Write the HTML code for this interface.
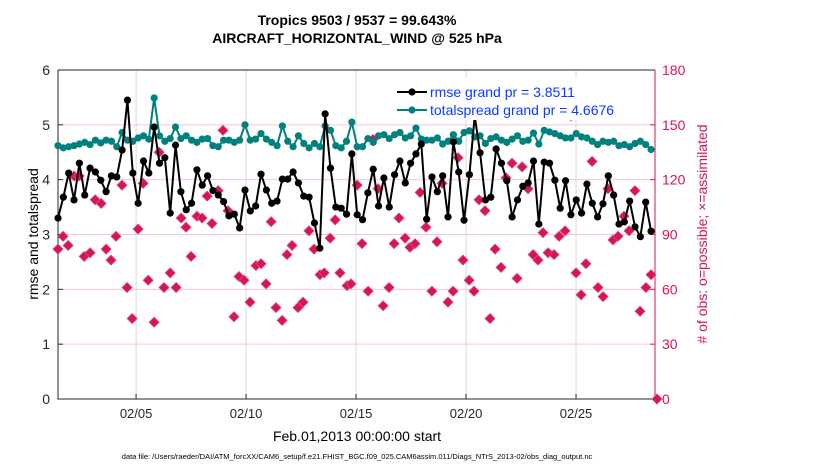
<!DOCTYPE html>
<html><head><meta charset="utf-8"><style>
body{margin:0;background:#fff;}
svg{display:block;font-family:"Liberation Sans",sans-serif;}
</style></head><body>
<svg id="chart" width="830" height="470">
<rect width="830" height="470" fill="#fff"/>
<text x="357" y="25" text-anchor="middle" font-size="14" font-weight="bold">Tropics 9503 / 9537 = 99.643%</text>
<text x="357" y="43" text-anchor="middle" font-size="14" font-weight="bold">AIRCRAFT_HORIZONTAL_WIND @ 525 hPa</text>
<rect x="58" y="70" width="597" height="329" fill="#fff"/>
<g id="grid"></g><g id="axes"></g><g id="series"></g>
<text x="357" y="441" text-anchor="middle" font-size="14">Feb.01,2013 00:00:00 start</text>
<text transform="translate(38,234) rotate(-90)" text-anchor="middle" font-size="14">rmse and totalspread</text>
<text transform="translate(707,234) rotate(-90)" text-anchor="middle" font-size="14" fill="#d6145a"># of obs: o=possible; ×=assimilated</text>
<text x="357" y="459" text-anchor="middle" font-size="7.5">data file: /Users/raeder/DAI/ATM_forcXX/CAM6_setup/f.e21.FHIST_BGC.f09_025.CAM6assim.011/Diags_NTrS_2013-02/obs_diag_output.nc</text>
<g id="legend"></g>
</svg>
<script>
const rmse=[3.3,3.68,4.12,3.63,4.3,3.72,4.21,4.14,3.99,3.78,4.07,4.05,4.54,5.45,4.12,3.57,4.34,4.12,4.96,4.3,4.4,3.39,4.63,3.78,3.45,3.57,4.18,3.9,4.07,3.8,
3.72,3.6,3.34,3.37,3.12,3.81,3.43,3.52,4.1,3.81,3.57,3.61,4.01,4.01,4.14,3.94,3.7,3.68,3.21,2.75,5.2,4.21,3.5,3.48,3.37,4.47,
3.36,3.27,3.76,4.19,3.52,4.03,3.5,4.09,4.34,3.94,4.3,4.47,4.65,3.28,4.05,3.78,4.07,3.32,4.69,4.14,3.26,4.09,5.16,4.49,3.63,3.68,4.56,4.3,3.98,3.32,
3.63,3.88,3.94,4.34,3.19,4.32,4.3,3.99,3.48,3.98,3.36,3.63,3.39,3.92,3.57,3.32,3.56,4.07,3.72,3.19,3.23,3.61,3.14,2.96,3.59,3.06];
const spread=[4.62,4.58,4.6,4.62,4.65,4.68,4.64,4.72,4.67,4.72,4.7,4.6,4.86,4.72,4.7,4.76,4.8,4.74,5.49,4.8,4.7,4.75,4.96,4.75,4.8,4.72,4.68,4.74,4.75,4.62,
4.6,4.72,4.72,4.68,4.72,5.0,4.72,4.74,4.84,4.74,4.68,4.62,4.98,4.7,4.6,4.8,4.66,4.58,4.66,4.6,4.98,4.9,4.62,4.58,4.7,5.05,
4.6,4.6,4.75,4.68,4.8,4.82,4.75,4.82,4.86,4.76,4.8,4.94,4.74,4.72,4.72,4.76,4.65,4.7,4.82,4.7,4.86,4.89,4.78,4.8,4.66,4.75,4.78,4.72,4.68,4.74,
4.8,4.7,4.72,4.85,4.65,4.9,4.87,4.84,4.8,4.76,4.76,4.84,4.78,4.76,4.7,4.64,4.7,4.68,4.7,4.62,4.64,4.6,4.66,4.7,4.64,4.55];
const obsDay=[1.45,1.68,1.91,2.18,2.41,2.64,2.91,3.14,3.41,3.64,3.86,4.09,4.36,4.59,4.82,5.09,5.32,5.55,5.82,6.05,6.27,6.55,6.82,7.05,7.27,7.5,7.77,8.0,8.23,8.45,8.73,8.95,9.18,9.45,9.68,9.91,10.18,10.45,10.68,10.91,11.14,11.36,11.64,11.86,12.09,12.36,12.59,12.86,13.09,13.36,13.55,13.82,14.05,14.27,14.59,14.77,15.05,15.27,15.55,15.77,16.0,16.23,16.5,16.73,16.95,17.23,17.45,17.68,17.91,18.18,18.45,18.68,18.91,19.18,19.41,19.64,19.86,20.14,20.36,20.59,20.86,21.09,21.32,21.59,21.82,22.09,22.32,22.55,22.82,23.05,23.27,23.5,23.73,24.0,24.23,24.5,24.77,25.0,25.23,25.45,25.73,26.0,26.23,26.45,26.68,26.91,27.18,27.41,27.68,27.91,28.18,28.41,28.68];
const obsCount=[82,89,84,122,122,78,80,109,107,82,76,89,117,61,44,93,118,65,42,135,61,69,61,99,94,78,100,99,111,96,114,147,103,45,67,65,53,73,74,63,97,50,43,79,84,50,53,92,82,68,69,88,98,69,62,63,117,85,59,142,115,51,61,85,99,88,83,85,113,94,59,86,118,53,59,132,76,65,59,109,103,44,82,72,121,129,66,127,115,79,76,91,80,79,89,92,155,69,57,74,130,61,56,115,87,89,100,92,114,48,61,68,0];
const dateTicks=[5,10,15,20,25];
const dateLabels=["02/05","02/10","02/15","02/20","02/25"];
const leftTicks=[0,1,2,3,4,5,6];
const rightTicks=[0,30,60,90,120,150,180];
const legendLabels=["rmse grand pr = 3.8511","totalspread grand pr = 4.6676"];

const NS="http://www.w3.org/2000/svg";
const L=58,R=655,T=70,B=399,D0=1.45,D1=28.59;
const xDay=d=>L+(d-D0)/(D1-D0)*(R-L);
const yL=v=>B-v/6*(B-T);
const yR=v=>B-v/180*(B-T);
const dayOfIndex=i=>D0+i*(28.41-D0)/(rmse.length-1);
function el(tag,attrs,parent){const e=document.createElementNS(NS,tag);for(const k in attrs)e.setAttribute(k,attrs[k]);parent.appendChild(e);return e;}
const grid=document.getElementById('grid'),axes=document.getElementById('axes'),ser=document.getElementById('series'),leg=document.getElementById('legend');
dateTicks.forEach((d,i)=>{
  const g=el('line',{x1:xDay(d),x2:xDay(d),y1:T,y2:B,stroke:'#d9d9d9','stroke-width':1},grid);
  
  
  const tk=el('line',{x1:xDay(d),x2:xDay(d),y1:B,y2:B-5,stroke:'#262626'},axes);
  
  
  const t=el('text',{x:xDay(d),y:B+19,'text-anchor':'middle','font-size':13,fill:'#262626'},axes);
  t.textContent=dateLabels[i];
  
  
});
rightTicks.forEach(v=>{
  if(v>0&&v<180){const g=el('line',{x1:L,x2:R,y1:yR(v),y2:yR(v),stroke:'#f5c6d8','stroke-width':1},grid);
  
  }
  const tk=el('line',{x1:R,x2:R-5,y1:yR(v),y2:yR(v),stroke:'#d6145a'},axes);
  
  
  const t=el('text',{x:R+7,y:yR(v)+5,'font-size':14,fill:'#d6145a'},axes);
  t.textContent=v;
  
  
});
leftTicks.forEach(v=>{
  const tk=el('line',{x1:L,x2:L+5,y1:yL(v),y2:yL(v),stroke:'#262626'},axes);
  
  
  const t=el('text',{x:L-8,y:yL(v)+5,'text-anchor':'end','font-size':14,fill:'#262626'},axes);
  t.textContent=v;
  
  
});
const bl=el('path',{d:`M${L},${T}V${B}H${R}M${L},${T}H${R}`,fill:'none',stroke:'#262626','stroke-width':1},axes);


const rl=el('line',{x1:R,x2:R,y1:T,y2:B,stroke:'#d6145a'},axes);


// obs
obsDay.forEach((d,i)=>{
  const x=xDay(d),y=yR(obsCount[i]);
  const m=el('path',{d:`M${x},${y-5}L${x+5},${y}L${x},${y+5}L${x-5},${y}Z`,fill:'#d6145a',stroke:'#e0457f','stroke-width':0.8},ser);
  
  
});
function series(vals,color,name){
  const pts=vals.map((v,i)=>xDay(dayOfIndex(i))+','+yL(v)).join(' ');
  const pl=el('polyline',{points:pts,fill:'none',stroke:color,'stroke-width':2},ser);
  
  
  vals.forEach((v,i)=>{
    const c=el('circle',{cx:xDay(dayOfIndex(i)),cy:yL(v),r:3.6,fill:color},ser);
    
    
  });
}
series(spread,'#00807f','totalspread');
series(rmse,'#000000','rmse');
// legend
const lb=el('rect',{x:390,y:78,width:262,height:42,fill:'#fff'},leg);


[['#000000',0],['#00807f',1]].forEach(([c,i])=>{
  const y=92+i*18;
  const ln=el('line',{x1:397,x2:427,y1:y,y2:y,stroke:c,'stroke-width':2},leg);
  
  
  const cc=el('circle',{cx:412,cy:y,r:3.6,fill:c},leg);
  
  
  const t=el('text',{x:430,y:y+5,'font-size':14,fill:'#0a3cff'},leg);
  t.textContent=legendLabels[i];
  
  
});
</script>
</body></html>
